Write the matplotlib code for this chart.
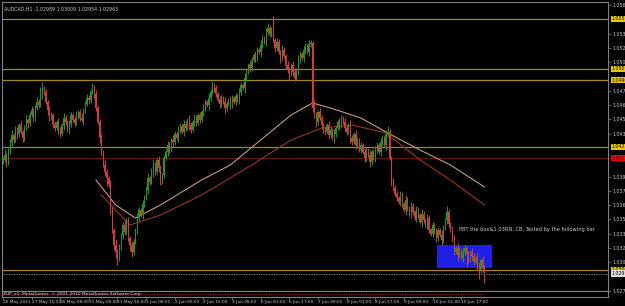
import numpy as np
import matplotlib
matplotlib.use("Agg")
from matplotlib import pyplot as plt
from matplotlib.patches import Rectangle

# AUDCAD H1, closes/wicks in pips above 1.0000
closes = [
    410, 415, 408, 418, 428, 435, 430, 440, 436, 445,
    438, 432, 442, 450, 447, 455, 460, 452, 462, 468,
    465, 475, 482, 478, 468, 460, 452, 455, 446, 442,
    448, 440, 436, 445, 452, 448, 440, 446, 455, 450,
    447, 455, 458, 452, 450, 460, 466, 472, 470, 478,
    482, 476, 462, 448, 432, 418, 405, 398, 392, 386,
    360, 340, 325, 318, 312, 322, 335, 345, 338, 350,
    332, 325, 318, 328, 340, 352, 360, 355, 366, 372,
    380, 392, 388, 398, 405, 398, 410, 402, 388, 395,
    412, 418, 425, 420, 430, 428, 436, 432, 440, 444,
    438, 446, 442, 450, 445, 440, 448, 452, 447, 455,
    450, 458, 462, 468, 465, 472, 478, 485, 482, 476,
    470, 466, 472, 468, 462, 466, 470, 465, 472, 468,
    474, 470, 478, 485, 482, 492, 498, 505, 502, 510,
    515, 512, 520, 518, 525, 532, 528, 538, 542, 536,
    540, 530, 522, 528, 518, 512, 520, 514, 505, 500,
    496, 505, 498, 492, 500, 510, 516, 512, 520, 524,
    518, 526, 527, 462, 455, 448, 458, 452, 445, 440,
    438, 445, 435, 440, 432, 436, 442, 448, 445, 452,
    448, 442, 438, 445, 432, 428, 436, 425, 430, 420,
    425, 418, 412, 420, 415, 408, 418, 412, 420, 425,
    418, 428, 432, 425, 436, 438, 412, 388, 382, 376,
    372, 368, 375, 366, 360, 370, 362, 356, 364, 358,
    352, 360, 355, 348, 356, 350, 345, 352, 340, 336,
    345, 338, 332, 340, 335, 330, 342, 350, 358, 346,
    340, 332, 318, 322, 315, 320, 312, 318, 322, 316,
    310, 318, 314, 308, 312, 305, 300, 310, 302, 296.3,
]
upper_wick = [
    3, 6, 2, 4, 3, 5, 2, 4, 3, 2,  4, 2, 3, 5, 2, 3, 4, 2, 3, 5,
    3, 8, 6, 2, 3, 2, 4, 3, 2, 3,  2, 4, 3, 2, 5, 3, 2, 4, 3, 2,
    3, 4, 2, 3, 5, 2, 3, 4, 3, 2,  5, 3, 4, 2, 3, 4, 2, 5, 3, 2,
    4, 3, 2, 5, 3, 4, 2, 3, 5, 2,  3, 2, 4, 3, 2, 5, 3, 2, 4, 3,
    3, 5, 2, 4, 6, 3, 2, 4, 3, 2,  3, 2, 4, 3, 2, 5, 3, 2, 4, 3,
    2, 4, 3, 2, 5, 3, 2, 4, 3, 2,  3, 2, 4, 3, 2, 5, 3, 4, 2, 3,
    2, 4, 3, 2, 5, 3, 2, 4, 3, 2,  3, 2, 4, 3, 2, 5, 3, 2, 4, 3,
    2, 4, 3, 2, 5, 3, 2, 4, 5, 3,  3, 14, 2, 4, 3, 2, 5, 3, 2, 4,
    3, 2, 4, 3, 2, 5, 3, 2, 4, 3,  2, 4, 3, 2, 8, 3, 2, 4, 3, 2,
    3, 2, 4, 3, 2, 5, 3, 2, 4, 3,  2, 4, 3, 2, 5, 3, 2, 4, 3, 2,
    3, 2, 4, 3, 2, 5, 3, 2, 4, 3,  2, 4, 3, 2, 4, 6, 3, 2, 4, 3,
    3, 2, 4, 3, 2, 5, 3, 2, 4, 3,  2, 4, 3, 2, 5, 3, 2, 4, 3, 2,
    3, 2, 4, 3, 2, 5, 3, 2, 6, 3,  2, 4, 3, 2, 5, 3, 2, 4, 3, 2,
    3, 2, 4, 3, 2, 5, 3, 2, 4, 3,
]
lower_wick = [
    4, 2, 5, 3, 2, 4, 3, 2, 5, 3,  2, 4, 3, 2, 5, 3, 2, 4, 3, 2,
    3, 2, 4, 3, 2, 5, 3, 2, 4, 3,  2, 4, 3, 2, 5, 3, 2, 4, 3, 2,
    3, 2, 4, 3, 2, 5, 3, 2, 4, 3,  2, 4, 3, 2, 5, 3, 2, 4, 8, 3,
    4, 3, 5, 6, 7, 3, 2, 4, 3, 2,  3, 6, 5, 3, 2, 4, 3, 2, 4, 3,
    2, 4, 3, 2, 5, 3, 2, 4, 3, 2,  3, 2, 4, 3, 2, 5, 3, 2, 4, 3,
    2, 4, 3, 2, 5, 3, 2, 4, 3, 2,  3, 2, 4, 3, 2, 5, 3, 2, 4, 3,
    2, 4, 3, 2, 5, 3, 2, 4, 3, 2,  3, 2, 4, 3, 2, 5, 3, 2, 4, 3,
    2, 4, 3, 2, 5, 3, 2, 4, 3, 2,  3, 2, 4, 3, 2, 5, 3, 2, 4, 3,
    6, 2, 4, 3, 2, 5, 3, 2, 4, 3,  2, 4, 3, 4, 3, 5, 3, 2, 4, 3,
    3, 2, 4, 3, 2, 5, 3, 2, 4, 3,  2, 4, 3, 2, 5, 3, 2, 4, 3, 2,
    3, 2, 4, 3, 2, 5, 3, 2, 4, 3,  2, 4, 3, 2, 5, 3, 2, 4, 3, 2,
    3, 2, 4, 3, 2, 5, 3, 2, 4, 3,  2, 4, 3, 2, 5, 3, 2, 4, 3, 2,
    3, 2, 4, 3, 2, 5, 3, 2, 4, 3,  2, 4, 3, 2, 5, 3, 2, 4, 3, 12,
    3, 2, 4, 3, 2, 5, 9, 3, 4, 9,
]

# moving averages, sampled (bar index, pips)
ma_fast_bars = [52, 63, 74, 88, 111, 127, 144, 161, 173, 183, 200, 217, 233, 250, 269]
ma_fast_vals = [390, 365, 352, 365, 390, 405, 430, 455, 467, 462, 452, 435, 420, 405, 383]
ma_slow_bars = [55, 71, 88, 111, 139, 161, 178, 195, 214, 233, 250, 269]
ma_slow_vals = [375, 345, 355, 375, 405, 430, 442, 445, 437, 410, 390, 365]

level_lines = [1.0551, 1.0501, 1.0490, 1.0423, 1.0300]
red_line = 1.0412
bid = 1.02963
box_bars = (242.5, 273)
box_prices = (1.0302, 1.0325)
note = "PBT the box&1.03RN, CB, Tested by the following bar"
title = "AUDCAD,H1  1.02989 1.03009 1.02954 1.02963"

date_labels = ["26 May 2011", "27 May 15:00", "30 May 08:00", "31 May 00:00",
               "31 May 16:00", "1 Jun 08:00", "2 Jun 00:00", "2 Jun 16:00",
               "3 Jun 08:00", "6 Jun 01:00", "6 Jun 17:00", "7 Jun 09:00",
               "8 Jun 01:00", "8 Jun 17:00", "9 Jun 09:00", "10 Jun 01:00",
               "10 Jun 17:00"]
date_bars = list(range(0, 16 * len(date_labels), 16))
price_ticks = [1.05650, 1.05364, 1.05221, 1.05078, 1.04792, 1.04649,
               1.04506, 1.04363, 1.03934, 1.03791, 1.03648, 1.03505,
               1.03362, 1.03219, 1.03076, 1.02790]

c = 1 + np.array(closes) / 10000
o = np.concatenate([[c[0]], c[:-1]])
hi = np.maximum(o, c) + np.array(upper_wick) / 10000
lo = np.minimum(o, c) - np.array(lower_wick) / 10000
x = np.arange(len(c))

BG = "#000000"
GRID = "#808080"
TXT = "#c8c8c8"
GOLD = "#a8880c"
BULL = "#1f9a1f"
BEAR = "#d83a3a"
FS = 3.4

fig = plt.figure(figsize=(6.25, 3.06), dpi=100, facecolor=BG)
W, H = 625, 306
ax = fig.add_axes([2 / W, 1 - 291 / H, 606 / W, 289 / H], facecolor=BG)
sub = fig.add_axes([2 / W, 1 - 297 / H, 606 / W, 6 / H], facecolor=BG)

ymin, ymax = 1.0279, 1.0568
ax.set_xlim(-0.5, 338)
ax.set_ylim(ymin, ymax)
sub.set_xlim(-0.5, 338)
sub.set_ylim(0, 1)

# horizontal levels
for lv in level_lines:
    ax.axhline(lv, color=GOLD, lw=0.9, zorder=1)
ax.axhline(red_line, color="#5a1a10", lw=0.9, zorder=1)
ax.axhline(bid, color="#9a9a9a", lw=0.6, ls=(0, (1, 1)), zorder=1)

# box
ax.add_patch(Rectangle((box_bars[0], box_prices[0]), box_bars[1] - box_bars[0],
                       box_prices[1] - box_prices[0], color="#2020e6", zorder=2, lw=0))

# moving averages
ax.plot(ma_slow_bars, 1 + np.array(ma_slow_vals) / 10000, color="#9c3220", lw=0.8, zorder=3)
ax.plot(ma_fast_bars, 1 + np.array(ma_fast_vals) / 10000, color="#c89a70", lw=0.8, zorder=3)

# candles
up = c >= o
cols = np.where(up, BULL, BEAR)
ax.vlines(x, lo, hi, colors=cols, lw=0.7, zorder=4)
body_lo = np.minimum(o, c)
body_h = np.maximum(np.abs(c - o), 0.00008)
ax.bar(x, body_h, bottom=body_lo, width=0.6, color=cols, lw=0, zorder=5)

ax.text(255, 1.0340, note, color=TXT, fontsize=3.7, ha="left", va="center", zorder=6)
ax.text(0.004, 0.985, title, transform=ax.transAxes, color=TXT, fontsize=FS,
        ha="left", va="top")

# price axis on the right
ax.yaxis.tick_right()
ax.set_yticks(price_ticks)
ax.set_yticklabels(["%.5f" % t for t in price_ticks])
ax.tick_params(axis="y", colors=GRID, labelcolor=TXT, labelsize=FS, length=2, width=0.5, pad=1.2)
ax.set_xticks([])

def price_tag(val, fc, tc):
    ax.annotate("%.5f" % val, xy=(1, val), xycoords=("axes fraction", "data"),
                xytext=(2.4, 0), textcoords="offset points", fontsize=FS, color=tc,
                va="center", ha="left", annotation_clip=False,
                bbox=dict(boxstyle="square,pad=0.15", fc=fc, ec="none"))

for lv in level_lines:
    price_tag(lv, "#e8c800", "#000000")
price_tag(red_line, "#ff0000", "#000000")
price_tag(bid, "#e0e0e0", "#000000")

for a in (ax, sub):
    for s in a.spines.values():
        s.set_color(GRID)
        s.set_linewidth(0.8)

# indicator subwindow
sub.hlines(0.5, 0, len(c) - 1, color="#c02020", lw=0.5, ls=(0, (2, 1.5)))
sub.text(0.002, 0.5, "ZUP_v1, MetaQuotes  \u00a9 2001-2010 MetaQuotes Software Corp.",
         transform=sub.transAxes, color="#e0e0e0", fontsize=3.2, va="center", ha="left")
sub.set_yticks([])
sub.set_xticks(date_bars)
sub.set_xticklabels(date_labels, ha="left")
sub.tick_params(axis="x", colors=GRID, labelcolor=TXT, labelsize=3.1, length=2, width=0.5, pad=0.5)

fig.savefig("out.png", dpi=100, facecolor=BG)
